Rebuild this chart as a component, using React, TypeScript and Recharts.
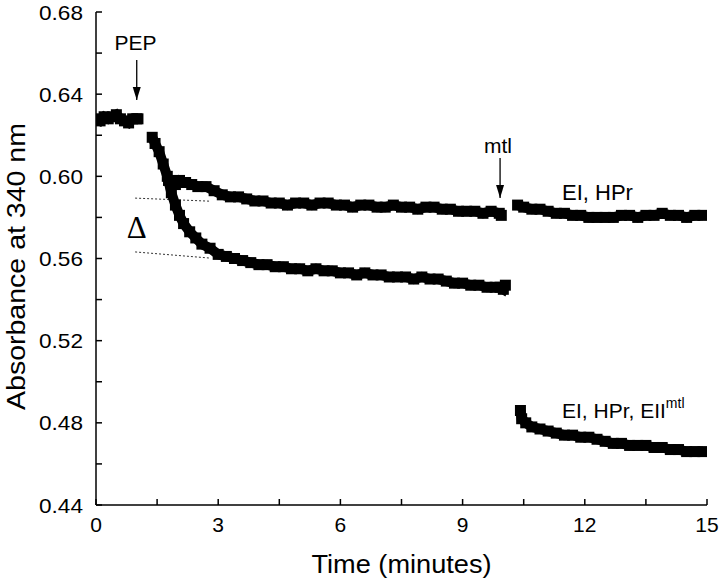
import React from 'react';
import { ComposedChart, Line, XAxis, YAxis, Scatter, ReferenceLine, Label } from 'recharts';

// [time (min), absorbance]
const baseline: number[][] = [[0.0,0.628],[0.1,0.627],[0.2,0.629],[0.3,0.628],[0.4,0.629],[0.5,0.630],[0.6,0.628],[0.7,0.627],[0.8,0.626],[0.9,0.628],[1.0,0.628],[1.03,0.628]];

const withEII: number[][] = [[1.38,0.619],[1.45,0.616],[1.55,0.612],[1.65,0.606],[1.75,0.600],[1.85,0.592],[1.95,0.586],[2.05,0.581],[2.15,0.577],[2.3,0.573],[2.45,0.570],[2.6,0.567],[2.8,0.565],[3.0,0.562],[3.2,0.561],[3.4,0.560],[3.6,0.559],[3.8,0.558],[4.0,0.557],[4.2,0.557],[4.4,0.556],[4.6,0.556],[4.8,0.555],[5.0,0.555],[5.2,0.554],[5.4,0.555],[5.6,0.554],[5.8,0.554],[6.0,0.553],[6.2,0.553],[6.4,0.552],[6.6,0.553],[6.8,0.552],[7.0,0.552],[7.2,0.551],[7.4,0.551],[7.6,0.551],[7.8,0.550],[8.0,0.551],[8.2,0.550],[8.4,0.550],[8.6,0.549],[8.8,0.548],[9.0,0.548],[9.2,0.547],[9.4,0.547],[9.6,0.546],[9.8,0.546],[9.92,0.546],[10.0,0.545],[10.05,0.547]];

const withoutEII: number[][] = [[1.78,0.598],[1.85,0.596],[1.95,0.596],[2.05,0.598],[2.2,0.597],[2.35,0.596],[2.5,0.595],[2.7,0.595],[2.9,0.593],[3.1,0.591],[3.3,0.590],[3.5,0.590],[3.7,0.589],[3.9,0.588],[4.1,0.588],[4.3,0.587],[4.5,0.587],[4.7,0.586],[4.9,0.587],[5.1,0.587],[5.3,0.586],[5.5,0.587],[5.7,0.587],[5.9,0.586],[6.1,0.586],[6.3,0.585],[6.5,0.586],[6.7,0.586],[6.9,0.585],[7.1,0.585],[7.3,0.586],[7.5,0.585],[7.7,0.585],[7.9,0.584],[8.1,0.585],[8.3,0.585],[8.5,0.584],[8.7,0.584],[8.9,0.583],[9.1,0.583],[9.3,0.583],[9.5,0.582],[9.7,0.583],[9.9,0.582],[9.95,0.581]];

const withoutEIIAfterMtl: number[][] = [[10.35,0.586],[10.5,0.585],[10.7,0.584],[10.9,0.584],[11.1,0.583],[11.3,0.582],[11.5,0.582],[11.7,0.581],[11.9,0.581],[12.1,0.580],[12.3,0.580],[12.5,0.580],[12.7,0.580],[12.9,0.581],[13.1,0.581],[13.3,0.580],[13.5,0.581],[13.7,0.581],[13.9,0.582],[14.1,0.581],[14.3,0.581],[14.5,0.580],[14.7,0.581],[14.9,0.581]];

const withEIIAfterMtl: number[][] = [[10.42,0.486],[10.45,0.482],[10.55,0.480],[10.7,0.478],[10.9,0.477],[11.1,0.476],[11.3,0.475],[11.5,0.474],[11.7,0.474],[11.9,0.473],[12.1,0.473],[12.3,0.472],[12.5,0.471],[12.7,0.470],[12.9,0.470],[13.1,0.469],[13.3,0.469],[13.5,0.469],[13.7,0.468],[13.9,0.468],[14.1,0.467],[14.3,0.467],[14.5,0.466],[14.7,0.466],[14.9,0.466]];

const xTicks = [0, 1.5, 3, 4.5, 6, 7.5, 9, 10.5, 12, 13.5, 15];
const yTicks = [0.44, 0.46, 0.48, 0.50, 0.52, 0.54, 0.56, 0.58, 0.60, 0.62, 0.64, 0.66, 0.68];

// dotted guide lines for Δ  [[t1,v1],[t2,v2]]
const guideUpper = [[0.96, 0.5894], [2.8, 0.5879]];
const guideLower = [[0.96, 0.5632], [2.8, 0.5602]];

// arrows: [t, vTop, vTip]
const arrowPEP = [1.0, 0.6566, 0.6372];
const arrowMtl = [9.92, 0.6089, 0.5894];

// text annotations
const notes = [
  { t: 0.97, v: 0.6615, kind: 'pep', text: 'PEP' },
  { t: 9.87, v: 0.6114, kind: 'mtl', text: 'mtl' },
  { t: 11.44, v: 0.5885, kind: 'left', text: 'EI, HPr' },
  { t: 11.44, v: 0.4823, kind: 'eii', text: 'EI, HPr, EII' },
  { t: 1.0, v: 0.570, kind: 'delta', text: 'Δ' },
];
const arrowTips = [
  { t: arrowPEP[0], v: arrowPEP[2] },
  { t: arrowMtl[0], v: arrowMtl[2] },
];

const FONT = 'Liberation Sans, Arial, Helvetica, sans-serif';

const toRows = (arr: number[][]) => arr.map(([t, v]) => ({ t, v }));

const Square = (p: any) => {
  if (p.cx == null || p.cy == null) return <g key={p.index} />;
  return <rect key={p.index} x={p.cx - 5.5} y={p.cy - 5.5} width={11} height={11} fill="#000" />;
};

const XTick = (p: any) => {
  const val = p.payload.value;
  const major = Math.abs(val / 3 - Math.round(val / 3)) < 1e-6;
  return (
    <g>
      <line x1={p.x} x2={p.x} y1={p.y} y2={p.y - 6} stroke="#000" strokeWidth={1.5} />
      {major && (
        <text x={p.x} y={p.y + 27} textAnchor="middle" fontSize={21} fontFamily={FONT} fill="#000">
          {String(val)}
        </text>
      )}
    </g>
  );
};

const YTick = (p: any) => {
  const val = p.payload.value;
  const major = Math.round(val * 100) % 4 === 0;
  return (
    <g>
      <line x1={p.x} x2={p.x + 6} y1={p.y} y2={p.y} stroke="#000" strokeWidth={1.5} />
      {major && (
        <text x={p.x - 13} y={p.y} dy="0.36em" textAnchor="end" fontSize={21} fontFamily={FONT} fill="#000" textLength={44} lengthAdjust="spacingAndGlyphs">
          {val.toFixed(2)}
        </text>
      )}
    </g>
  );
};

const NoteShape = (p: any) => {
  const d = p.payload;
  const common = { fontFamily: FONT, fill: '#000' } as any;
  if (d.kind === 'pep') return <text x={p.cx} y={p.cy} textAnchor="middle" fontSize={21} {...common}>{d.text}</text>;
  if (d.kind === 'mtl') return <text x={p.cx} y={p.cy} textAnchor="middle" fontSize={21} {...common}>{d.text}</text>;
  if (d.kind === 'left') return <text x={p.cx} y={p.cy} fontSize={22} {...common}>{d.text}</text>;
  if (d.kind === 'eii')
    return (
      <text x={p.cx} y={p.cy} fontSize={21} {...common}>
        {d.text}
        <tspan dy={-10} fontSize={14}>mtl</tspan>
      </text>
    );
  if (d.kind === 'delta')
    return <text x={p.cx} y={p.cy} textAnchor="middle" fontSize={31} fontFamily="Liberation Serif, Times New Roman, serif" fill="#000">{d.text}</text>;
  return <g />;
};

const ArrowHead = (p: any) => (
  <polygon points={`${p.cx},${p.cy} ${p.cx - 4},${p.cy - 13} ${p.cx + 4},${p.cy - 13}`} fill="#000" />
);

const XTitle = (p: any) => {
  const vb = p.viewBox;
  return (
    <text x={vb.x + vb.width / 2} y={vb.y + 68} textAnchor="middle" fontSize={25} fontFamily={FONT} fill="#000" textLength={180} lengthAdjust="spacingAndGlyphs">
      Time (minutes)
    </text>
  );
};

const YTitle = (p: any) => {
  const vb = p.viewBox;
  const cx = 25;
  const cy = vb.y + vb.height / 2 + 8;
  return (
    <text x={cx} y={cy} transform={`rotate(-90 ${cx} ${cy})`} textAnchor="middle" fontSize={25} fontFamily={FONT} fill="#000" textLength={287} lengthAdjust="spacingAndGlyphs">
      Absorbance at 340 nm
    </text>
  );
};

export default function App() {
  const seg = (arr: number[][], k: string) => (
    <Line
      key={k}
      data={toRows(arr)}
      dataKey="v"
      type="linear"
      stroke="#000"
      strokeWidth={10}
      dot={Square}
      activeDot={false}
      isAnimationActive={false}
      legendType="none"
    />
  );
  return (
    <div style={{ position: 'absolute', left: 0, top: 0, width: 720, height: 582, background: '#fff' }}>
      <ComposedChart width={720} height={582} margin={{ top: 12, right: 13, bottom: 0, left: 0 }}>
        <XAxis
          type="number"
          dataKey="t"
          domain={[0, 15]}
          ticks={xTicks}
          interval={0}
          tickSize={0}
          tickMargin={0}
          tick={XTick}
          tickLine={false}
          axisLine={{ stroke: '#000', strokeWidth: 1.5 }}
          height={77}
          allowDataOverflow
        >
          <Label content={XTitle} />
        </XAxis>
        <YAxis
          type="number"
          domain={[0.44, 0.68]}
          ticks={yTicks}
          interval={0}
          tickSize={0}
          tickMargin={0}
          tick={YTick}
          tickLine={false}
          axisLine={{ stroke: '#000', strokeWidth: 1.5 }}
          width={96}
          allowDataOverflow
        >
          <Label content={YTitle} />
        </YAxis>
        <ReferenceLine segment={[{ x: guideUpper[0][0], y: guideUpper[0][1] }, { x: guideUpper[1][0], y: guideUpper[1][1] }]} stroke="#333" strokeWidth={1} strokeDasharray="2 2" ifOverflow="visible" />
        <ReferenceLine segment={[{ x: guideLower[0][0], y: guideLower[0][1] }, { x: guideLower[1][0], y: guideLower[1][1] }]} stroke="#333" strokeWidth={1} strokeDasharray="2 2" ifOverflow="visible" />
        <ReferenceLine segment={[{ x: arrowPEP[0], y: arrowPEP[1] }, { x: arrowPEP[0], y: arrowPEP[2] }]} stroke="#000" strokeWidth={1.3} ifOverflow="visible" />
        <ReferenceLine segment={[{ x: arrowMtl[0], y: arrowMtl[1] }, { x: arrowMtl[0], y: arrowMtl[2] }]} stroke="#000" strokeWidth={1.3} ifOverflow="visible" />
        {seg(baseline, 'base')}
        {seg(withEII, 'lower')}
        {seg(withoutEII, 'upper')}
        {seg(withoutEIIAfterMtl, 'upper2')}
        {seg(withEIIAfterMtl, 'lower2')}
        <Scatter data={arrowTips} dataKey="v" shape={ArrowHead} isAnimationActive={false} legendType="none" />
        <Scatter data={notes} dataKey="v" shape={NoteShape} isAnimationActive={false} legendType="none" />
      </ComposedChart>
    </div>
  );
}
